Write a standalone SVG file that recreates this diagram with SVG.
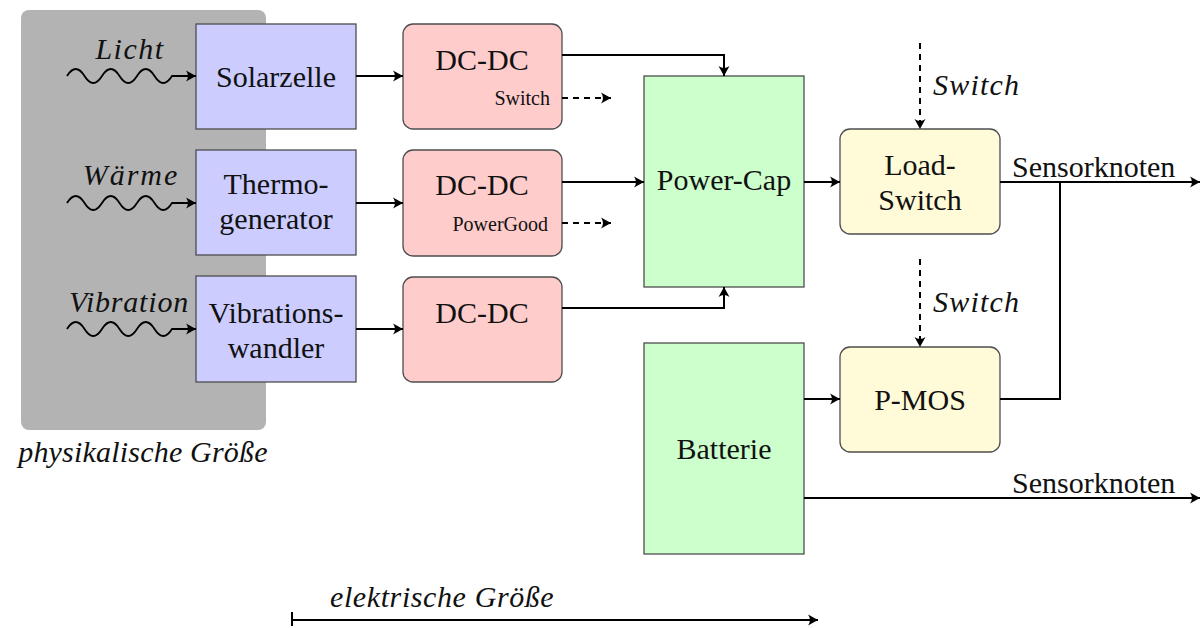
<svg xmlns="http://www.w3.org/2000/svg" width="1201" height="628" viewBox="0 0 1201 628">
  <style>
    text { font-family: 'Liberation Serif', 'DejaVu Serif', serif; fill: #111; }
    .lbl { font-size: 30px; text-anchor: middle; }
    .left { text-anchor: start; }
    .small { font-size: 20px; text-anchor: end; }
    .ital { font-size: 30px; font-style: italic; }
    .mid { text-anchor: middle; }
    .box { stroke: #4d4d4d; stroke-width: 1.3; }
    .src { fill: #ccccff; }
    .conv { fill: #ffcccc; }
    .store { fill: #ccffcc; }
    .sw { fill: #fffad7; }
    .wire { fill: none; stroke: #000; stroke-width: 2; }
    .wave { stroke-width: 1.8; }
    .dash { stroke-dasharray: 6 5; }
    .arr { marker-end: url(#head); }
  </style>
  <defs>
    <marker id="head" viewBox="-11 -6 12 12" refX="0" refY="0" markerWidth="12" markerHeight="12" markerUnits="userSpaceOnUse" orient="auto">
      <path d="M0,0 L-10,-5.5 Q-6,0 -10,5.5 Z" fill="#000"/>
    </marker>
  </defs>

  <!-- physical domain background -->
  <g id="physical-domain">
    <rect x="21" y="10" width="245" height="420" rx="8" fill="#b3b3b3"/>
    <text class="ital mid" x="143" y="462" letter-spacing="0.2">physikalische Größe</text>
  </g>

  <!-- energy sources -->
  <g id="licht">
    <text class="ital mid" x="130" y="59" letter-spacing="1.5">Licht</text>
  </g>
  <g id="waerme">
    <text class="ital mid" x="131" y="185" letter-spacing="2">Wärme</text>
  </g>
  <g id="vibration">
    <text class="ital mid" x="129" y="312" letter-spacing="0.8">Vibration</text>
  </g>

  <!-- transducers -->
  <g id="solarzelle">
    <rect class="box src" x="196" y="24" width="160" height="105"/>
    <text class="lbl" x="276" y="87">Solarzelle</text>
  </g>
  <g id="thermogenerator">
    <rect class="box src" x="196" y="150" width="160" height="105"/>
    <text class="lbl" x="276" y="194">Thermo-</text>
    <text class="lbl" x="276" y="229">generator</text>
  </g>
  <g id="vibrationswandler">
    <rect class="box src" x="196" y="276" width="160" height="106"/>
    <text class="lbl" x="276" y="323">Vibrations-</text>
    <text class="lbl" x="276" y="358">wandler</text>
  </g>

  <!-- converters -->
  <g id="dcdc-1">
    <rect class="box conv" x="403" y="24" width="159" height="105" rx="10"/>
    <text class="lbl" x="482" y="70">DC-DC</text>
    <text class="small" x="550" y="105">Switch</text>
  </g>
  <g id="dcdc-2">
    <rect class="box conv" x="403" y="150" width="159" height="106" rx="10"/>
    <text class="lbl" x="482" y="195">DC-DC</text>
    <text class="small" x="548" y="231">PowerGood</text>
  </g>
  <g id="dcdc-3">
    <rect class="box conv" x="403" y="277" width="159" height="105" rx="10"/>
    <text class="lbl" x="482" y="323">DC-DC</text>
  </g>

  <!-- storage -->
  <g id="power-cap">
    <rect class="box store" x="644" y="76" width="160" height="211"/>
    <text class="lbl" x="724" y="190">Power-Cap</text>
  </g>
  <g id="batterie">
    <rect class="box store" x="644" y="343" width="160" height="211"/>
    <text class="lbl" x="724" y="459">Batterie</text>
  </g>

  <!-- switches -->
  <g id="load-switch">
    <rect class="box sw" x="840" y="129" width="160" height="105" rx="10"/>
    <text class="lbl" x="920" y="175">Load-</text>
    <text class="lbl" x="920" y="210">Switch</text>
  </g>
  <g id="p-mos">
    <rect class="box sw" x="840" y="347" width="160" height="105" rx="10"/>
    <text class="lbl" x="920" y="410">P-MOS</text>
  </g>

  <!-- connectors -->
  <g id="connectors">
    <!-- wave inputs -->
    <path class="wire wave arr" d="M67,76 q8.75,-14 17.5,0 t17.5,0 t17.5,0 t17.5,0 t17.5,0 t17.5,0 L196,76"/>
    <path class="wire wave arr" d="M67,203 q8.75,-14 17.5,0 t17.5,0 t17.5,0 t17.5,0 t17.5,0 t17.5,0 L196,203"/>
    <path class="wire wave arr" d="M67,329 q8.75,-14 17.5,0 t17.5,0 t17.5,0 t17.5,0 t17.5,0 t17.5,0 L196,329"/>

    <!-- transducer to converter -->
    <path class="wire arr" d="M356,76 H403"/>
    <path class="wire arr" d="M356,203 H403"/>
    <path class="wire arr" d="M356,329 H403"/>

    <!-- converter to power cap -->
    <path class="wire arr" d="M562,55 H724 V76"/>
    <path class="wire arr" d="M562,182 H644"/>
    <path class="wire arr" d="M562,308 H724 V287"/>
    <path class="wire dash arr" d="M562,98 H611"/>
    <path class="wire dash arr" d="M562,223 H611"/>

    <!-- storage to switches -->
    <path class="wire arr" d="M804,182 H840"/>
    <path class="wire arr" d="M804,399 H840"/>

    <!-- switch control -->
    <path class="wire dash arr" d="M920,43 V129"/>
    <path class="wire dash arr" d="M920,259 V347"/>
    <text class="ital" x="933" y="95" letter-spacing="1.2">Switch</text>
    <text class="ital" x="933" y="312" letter-spacing="1.2">Switch</text>

    <!-- outputs -->
    <path class="wire arr" d="M1000,182 H1200"/>
    <path class="wire" d="M1060,182 V399 H1000"/>
    <path class="wire arr" d="M804,498 H1200"/>
    <text class="lbl left" x="1012" y="177">Sensorknoten</text>
    <text class="lbl left" x="1012" y="493">Sensorknoten</text>

    <!-- electrical domain axis -->
    <path class="wire arr" d="M292,620 H818"/>
    <path class="wire" d="M292,612 V626"/>
    <text class="ital" x="330" y="607" letter-spacing="0.6">elektrische Größe</text>
  </g>
</svg>
